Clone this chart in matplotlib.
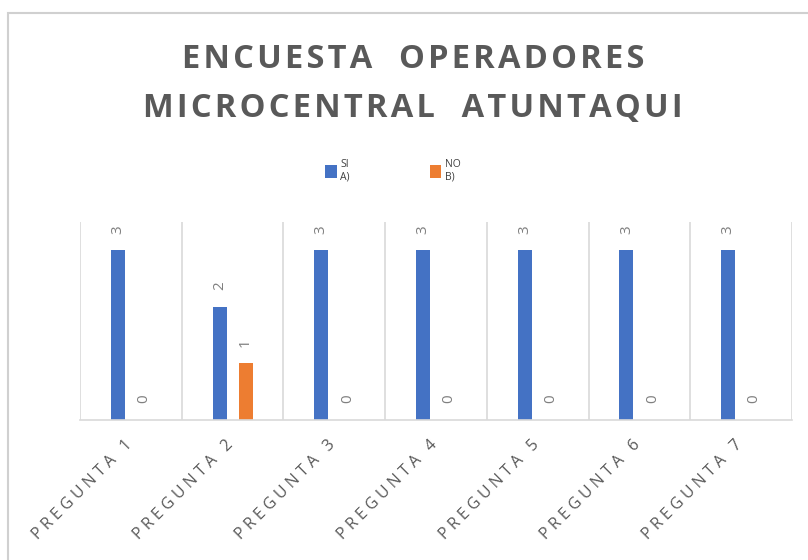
import matplotlib
matplotlib.use("Agg")
import matplotlib.pyplot as plt
import numpy as np
from matplotlib.patches import Rectangle
import matplotlib.transforms as mtransforms

categories = ["PREGUNTA 1", "PREGUNTA 2", "PREGUNTA 3", "PREGUNTA 4",
              "PREGUNTA 5", "PREGUNTA 6", "PREGUNTA 7"]
si_values = [3, 2, 3, 3, 3, 3, 3]
no_values = [0, 1, 0, 0, 0, 0, 0]
series_names = ["SI\nA)", "NO\nB)"]
title_lines = ["ENCUESTA  OPERADORES", "MICROCENTRAL  ATUNTAQUI"]

BLUE = "#4472C4"
ORANGE = "#ED7D31"
GRAY = "#595959"
LGRAY = "#D9D9D9"
FAM = ["Open Sans", "DejaVu Sans"]

W, H = 808, 560
fig = plt.figure(figsize=(W / 100, H / 100), dpi=100)

# chart border
fig.patches.append(Rectangle((8 / W, -0.1), 1.2, (H - 13) / H + 0.1,
                             transform=fig.transFigure, fill=False,
                             edgecolor="#D0D0D0", linewidth=1.5))

ax = fig.add_axes([80 / W, (H - 420) / H, (792 - 80) / W, (420 - 222) / H])

def spaced(s, sep="\u200a"):
    return sep.join(list(s))

x = np.arange(len(categories))
bw = 0.138
off = 0.128
b1 = ax.bar(x - off, si_values, bw, color=BLUE, label=series_names[0])
b2 = ax.bar(x + off, no_values, bw, color=ORANGE, label=series_names[1])

for bars, vals in ((b1, si_values), (b2, no_values)):
    for r, v in zip(bars, vals):
        ax.annotate(str(v), (r.get_x() + r.get_width() / 2, r.get_height()),
                    xytext=(0, 12), textcoords="offset points",
                    ha="center", va="bottom", rotation=90,
                    fontsize=11, color="#7F7F7F", family=FAM)

ax.set_xlim(-0.5, len(categories) - 0.5)
ax.set_ylim(0, 3.5)
ax.set_yticks([])
for sp in ("top", "right", "left"):
    ax.spines[sp].set_visible(False)
ax.spines["bottom"].set_color(LGRAY)
ax.spines["bottom"].set_linewidth(1.2)
for b in np.arange(-0.5, len(categories), 1.0):
    ax.axvline(b, color=LGRAY, linewidth=1.2, zorder=0)

ax.set_xticks(x)
ax.set_xticklabels([spaced(c, "\u2009\u200a") for c in categories], rotation=45,
                   ha="right", va="top", rotation_mode="anchor",
                   fontsize=11.5, color=GRAY, family=FAM)
ax.tick_params(axis="x", length=0, pad=12)
shift = mtransforms.ScaledTranslation(-7 / 100, 0, fig.dpi_scale_trans)
for lbl in ax.get_xticklabels():
    lbl.set_transform(lbl.get_transform() + shift)

fig.text(413 / W, 1 - 59 / H, spaced(title_lines[0]),
         ha="center", va="center", fontsize=23.5, fontweight="bold",
         color=GRAY, family=FAM)
fig.text(413 / W, 1 - 109 / H, spaced(title_lines[1]),
         ha="center", va="center", fontsize=23.5, fontweight="bold",
         color=GRAY, family=FAM)

# legend
leg = fig.legend(handles=[b1, b2], labels=series_names,
                 loc="center", bbox_to_anchor=(393 / W, 1 - 171 / H),
                 ncol=2, frameon=False, handlelength=1.1,
                 handleheight=1.5, columnspacing=7.7, handletextpad=0.35,
                 prop={"family": FAM, "size": 7.5})
for t in leg.get_texts():
    t.set_color("#404040")

fig.savefig("out.png", dpi=100)
